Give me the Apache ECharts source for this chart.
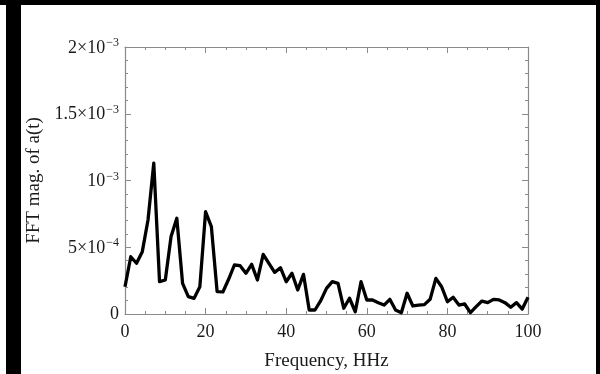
<!DOCTYPE html>
<html><head><meta charset="utf-8">
<script src="https://cdn.jsdelivr.net/npm/echarts@6/dist/echarts.min.js"></script>
<style>html,body{margin:0;padding:0;background:#fff}#c{width:600px;height:374px}</style>
</head><body><div id="c"></div>
<script>
const freqs = [0,1.43,2.86,4.29,5.71,7.14,8.57,10,11.43,12.86,14.29,15.71,17.14,18.57,20,21.43,22.86,24.29,25.71,27.14,28.57,30,31.43,32.86,34.29,35.71,37.14,38.57,40,41.43,42.86,44.29,45.71,47.14,48.57,50,51.43,52.86,54.29,55.71,57.14,58.57,60,61.43,62.86,64.29,65.71,67.14,68.57,70,71.43,72.86,74.29,75.71,77.14,78.57,80,81.43,82.86,84.29,85.71,87.14,88.57,90,91.43,92.86,94.29,95.71,97.14,98.57,100];
const mags = [2.04e-4,4.29e-4,3.8e-4,4.67e-4,7.04e-4,1.13e-3,2.42e-4,2.55e-4,5.8e-4,7.17e-4,2.3e-4,1.3e-4,1.17e-4,2.04e-4,7.66e-4,6.54e-4,1.67e-4,1.65e-4,2.6e-4,3.67e-4,3.62e-4,3.05e-4,3.72e-4,2.55e-4,4.47e-4,3.8e-4,3.12e-4,3.47e-4,2.42e-4,3.05e-4,1.8e-4,2.97e-4,3e-5,3e-5,1e-4,1.92e-4,2.42e-4,2.3e-4,4.3e-5,1.18e-4,1.7e-5,2.42e-4,1.05e-4,1.05e-4,8.5e-5,6.7e-5,1.1e-4,3e-5,1e-5,1.55e-4,6e-5,6.7e-5,7e-5,1.1e-4,2.67e-4,2.04e-4,9.2e-5,1.25e-4,6.7e-5,7.5e-5,1e-5,5.5e-5,9.7e-5,8.5e-5,1.1e-4,1.05e-4,8.5e-5,5e-5,8.5e-5,3.7e-5,1.25e-4];
const yTickLabels = {0:'0', 5:'{a|5×10}{s|−4}', 10:'{a|10}{s|−3}', 15:'{a|1.5×10}{s|−3}', 20:'{a|2×10}{s|−3}'};
const xTickLabels = ['0','20','40','60','80','100'];

const FONT = '"Liberation Serif", "DejaVu Serif", serif';
const TXT = '#1a1a1a';
const FRAME = '#8a8a8a';
const chart = echarts.init(document.getElementById('c'), null, {renderer:'canvas'});
const tickCommon = {inside:true, length:6, lineStyle:{color:FRAME, width:1}};
const minorCommon = {show:true, length:3, lineStyle:{color:FRAME, width:1}};
const lineCommon = {show:true, onZero:false, lineStyle:{color:FRAME, width:1.2}};
const rich = {
  a:{fontFamily:FONT, fontSize:18, color:TXT, verticalAlign:'bottom', lineHeight:20},
  s:{fontFamily:FONT, fontSize:12, color:TXT, verticalAlign:'top', lineHeight:20, padding:[0,0,0,1]}
};
chart.setOption({
  animation:false,
  backgroundColor:'#fff',
  grid:{left:125, right:72, top:47, bottom:60, containLabel:false, outerBoundsMode:'none'},
  xAxis:[{
    type:'value', min:0, max:100, interval:20, position:'bottom',
    axisLine:lineCommon, axisTick:tickCommon,
    minorTick:Object.assign({splitNumber:4}, minorCommon),
    splitLine:{show:false}, minorSplitLine:{show:false},
    axisLabel:{margin:9, fontFamily:FONT, fontSize:18, color:TXT,
      formatter:(v)=>xTickLabels[Math.round(v/20)]},
    name:'Frequency, HHz', nameLocation:'middle', nameGap:38,
    nameTextStyle:{fontFamily:FONT, fontSize:19, color:TXT}
  },{
    type:'value', min:0, max:100, interval:20, position:'top',
    axisLine:lineCommon, axisTick:tickCommon,
    minorTick:Object.assign({splitNumber:4}, minorCommon),
    splitLine:{show:false}, axisLabel:{show:false}
  }],
  yAxis:[{
    type:'value', min:0, max:0.002, interval:0.0005, position:'left',
    axisLine:lineCommon, axisTick:tickCommon,
    minorTick:Object.assign({splitNumber:5}, minorCommon),
    splitLine:{show:false}, minorSplitLine:{show:false},
    axisLabel:{margin:6, rich:rich, fontFamily:FONT, fontSize:18, color:TXT,
      formatter:(v)=>yTickLabels[Math.round(v*10000)] || ''},
    name:'FFT mag. of a(t)', nameLocation:'middle', nameGap:81, nameRotate:90,
    nameTextStyle:{fontFamily:FONT, fontSize:19, color:TXT}
  },{
    type:'value', min:0, max:0.002, interval:0.0005, position:'right',
    axisLine:lineCommon, axisTick:tickCommon,
    minorTick:Object.assign({splitNumber:5}, minorCommon),
    splitLine:{show:false}, axisLabel:{show:false}
  }],
  series:[{
    type:'line', xAxisIndex:0, yAxisIndex:0, symbol:'none',
    data: freqs.map((f,i)=>[f, mags[i]]),
    lineStyle:{color:'#000', width:3.3, join:'round'}
  }],
  graphic:[
    {type:'rect', shape:{x:0,y:0,width:600,height:5}, style:{fill:'#000'}},
    {type:'rect', shape:{x:6,y:0,width:15,height:374}, style:{fill:'#000'}},
    {type:'rect', shape:{x:596,y:0,width:4,height:374}, style:{fill:'#000'}}
  ]
});
</script></body></html>
